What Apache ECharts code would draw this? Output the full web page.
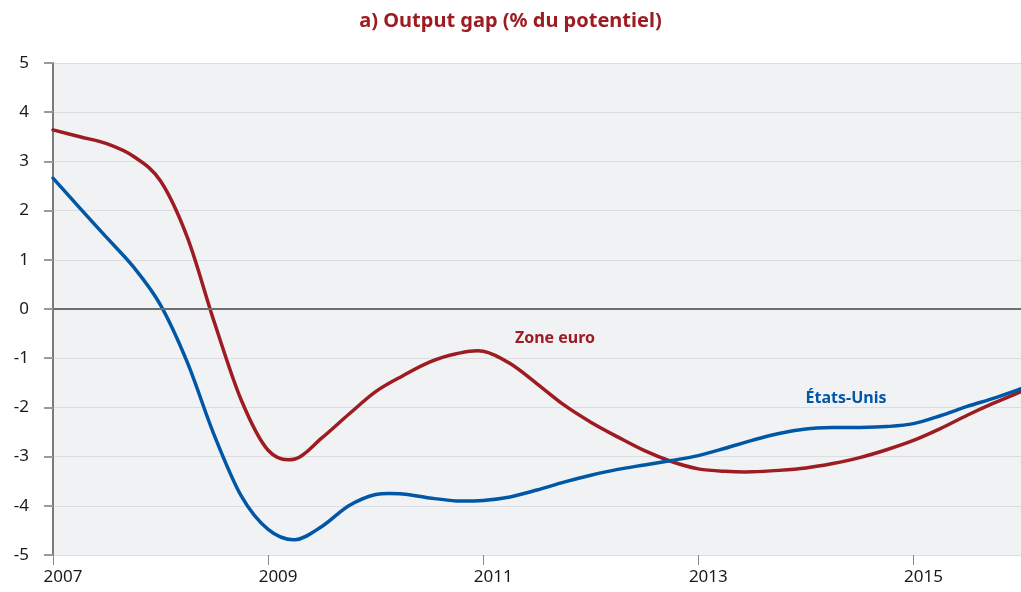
<!DOCTYPE html>
<html>
<head>
<meta charset="utf-8">
<script src="https://cdn.jsdelivr.net/npm/echarts@6/dist/echarts.min.js"></script>
<style>
  html, body { margin: 0; padding: 0; background: #fff; }
  #chart { width: 1021px; height: 592px; }
</style>
</head>
<body>
<div id="chart"></div>
<script>
// trimestres, 2007 -> 2016
const years = [
  2007, 2007.25, 2007.5, 2007.75, 2008, 2008.25, 2008.5, 2008.75,
  2009, 2009.25, 2009.5, 2009.75, 2010, 2010.25, 2010.5, 2010.75,
  2011, 2011.25, 2011.5, 2011.75, 2012, 2012.25, 2012.5, 2012.75,
  2013, 2013.25, 2013.5, 2013.75, 2014, 2014.25, 2014.5, 2014.75,
  2015, 2015.25, 2015.5, 2015.75, 2016
];

// output gap, % du PIB potentiel
const zoneEuro = [
  3.64, 3.50, 3.36, 3.10, 2.60, 1.45, -0.27, -1.85,
  -2.87, -3.05, -2.62, -2.14, -1.68, -1.36, -1.08, -0.91,
  -0.86, -1.11, -1.52, -1.95, -2.30, -2.60, -2.88, -3.10,
  -3.25, -3.30, -3.31, -3.28, -3.23, -3.14, -3.02, -2.86,
  -2.67, -2.43, -2.16, -1.91, -1.68
];

const etatsUnis = [
  2.66, 2.05, 1.45, 0.85, 0.08, -1.09, -2.57, -3.80,
  -4.48, -4.69, -4.42, -4.00, -3.77, -3.76, -3.84, -3.90,
  -3.89, -3.82, -3.68, -3.52, -3.38, -3.26, -3.17, -3.08,
  -2.98, -2.83, -2.67, -2.53, -2.44, -2.41, -2.41, -2.39,
  -2.33, -2.17, -1.98, -1.81, -1.62
];

const yearTicks = [2007, 2009, 2011, 2013, 2015];

const RED = "#9c1c22";
const BLUE = "#0057a6";
const FONT = "Noto Sans";

// courbe lissée (Catmull-Rom) passant par les points, positions via api.coord
function spline(values, color) {
  return function (params, api) {
    if (params.dataIndex !== 0) return null;
    const pts = years.map((y, i) => api.coord([y, values[i]]));
    const n = pts.length;
    let d = "M" + pts[0][0] + "," + pts[0][1];
    for (let i = 0; i < n - 1; i++) {
      const p0 = pts[Math.max(i - 1, 0)];
      const p1 = pts[i];
      const p2 = pts[i + 1];
      const p3 = pts[Math.min(i + 2, n - 1)];
      const c1x = p1[0] + (p2[0] - p0[0]) / 6, c1y = p1[1] + (p2[1] - p0[1]) / 6;
      const c2x = p2[0] - (p3[0] - p1[0]) / 6, c2y = p2[1] - (p3[1] - p1[1]) / 6;
      d += " C" + c1x + "," + c1y + " " + c2x + "," + c2y + " " + p2[0] + "," + p2[1];
    }
    return {
      type: "path",
      shape: { pathData: d },
      style: { fill: "none", stroke: color, lineWidth: 3.5, lineJoin: "round", lineCap: "round" }
    };
  };
}

const chart = echarts.init(document.getElementById("chart"));

chart.setOption({
  animation: false,
  textStyle: { fontFamily: FONT },
  title: {
    text: "a) Output gap (% du potentiel)",
    left: "center",
    top: 6,
    textStyle: { color: RED, fontSize: 20, fontWeight: "bold", fontFamily: FONT }
  },
  grid: {
    left: 53, right: 0, top: 63, bottom: 37,
    show: true,
    backgroundColor: "#f1f2f4",
    borderWidth: 0
  },
  xAxis: {
    type: "value",
    min: 2007,
    max: 2016,
    axisLine: { show: false, onZero: false },
    splitLine: { show: false },
    axisTick: {
      show: true,
      customValues: yearTicks,
      length: 10,
      lineStyle: { color: "#8a8a8a", width: 1 }
    },
    axisLabel: {
      customValues: yearTicks,
      formatter: v => String(v),
      color: "#1a1a1a",
      fontSize: 17,
      margin: 14,
      padding: [0, 0, 0, 20]
    }
  },
  yAxis: {
    type: "value",
    min: -5,
    max: 5,
    interval: 1,
    axisLine: { show: true, onZero: false, lineStyle: { color: "#7a7a7a", width: 2 } },
    axisTick: { show: true, length: 9, lineStyle: { color: "#9a9a9a", width: 2 } },
    splitLine: { show: true, lineStyle: { color: "#dcdde1", width: 1 } },
    axisLabel: { color: "#1a1a1a", fontSize: 17, margin: 24 }
  },
  series: [
    {
      name: "Zone euro",
      type: "custom",
      data: years.map((y, i) => [y, zoneEuro[i]]),
      encode: { x: 0, y: 1 },
      renderItem: spline(zoneEuro, RED),
      silent: true,
      z: 3,
      markLine: {
        silent: true,
        symbol: "none",
        label: { show: false },
        lineStyle: { color: "#6e6e6e", width: 2, type: "solid" },
        data: [{ yAxis: 0 }]
      }
    },
    {
      name: "États-Unis",
      type: "custom",
      data: years.map((y, i) => [y, etatsUnis[i]]),
      encode: { x: 0, y: 1 },
      renderItem: spline(etatsUnis, BLUE),
      silent: true,
      z: 4
    }
  ],
  graphic: [
    {
      type: "text",
      x: 555, y: 338,
      style: {
        text: "Zone euro", fill: RED, font: "bold 16px " + FONT,
        align: "center", verticalAlign: "middle"
      }
    },
    {
      type: "text",
      x: 846, y: 398,
      style: {
        text: "États-Unis", fill: BLUE, font: "bold 16px " + FONT,
        align: "center", verticalAlign: "middle"
      }
    }
  ]
});
</script>
</body>
</html>
